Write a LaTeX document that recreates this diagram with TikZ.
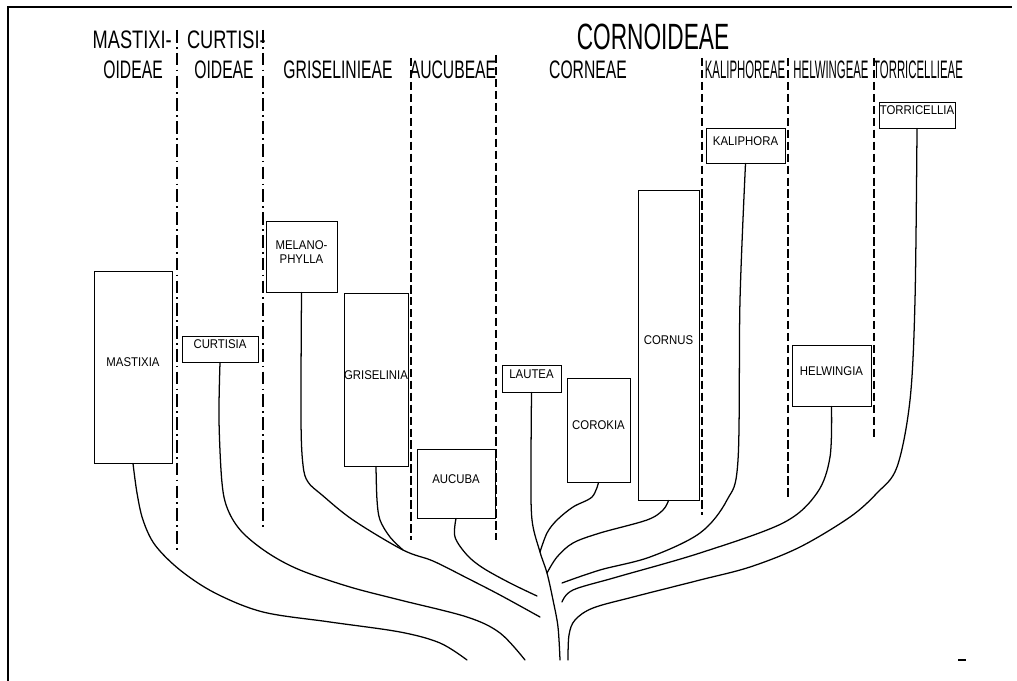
\documentclass[tikz,border=0pt]{standalone}
\usepackage{fontspec}
\newfontfamily\headfont[FakeStretch=0.62]{Liberation Sans}
\newfontfamily\widefont[FakeStretch=0.72]{Liberation Sans}
\newfontfamily\tightfont[FakeStretch=0.45]{Liberation Sans}
\newfontfamily\boxfont[FakeStretch=0.9]{Liberation Sans}
\usetikzlibrary{fit}

\tikzset{
  taxon/.style={draw, line width=0.7pt, inner sep=0pt, align=center,
    font=\boxfont\fontsize{9}{10}\selectfont},
  tribe/.style={inner sep=0pt, font=\headfont\fontsize{18}{18}\selectfont},
  widetribe/.style={inner sep=0pt, font=\widefont\fontsize{18}{18}\selectfont},
  narrowtribe/.style={inner sep=0pt, font=\tightfont\fontsize{18}{18}\selectfont},
  branch/.style={line width=0.9pt, line cap=round},
  subfamline/.style={line width=1pt, dash pattern=on 9pt off 3pt on 1.2pt off 3pt},
  tribeline/.style={line width=1pt, dash pattern=on 6pt off 2.5pt},
}

\begin{document}
\begin{tikzpicture}[x=0.025cm, y=-0.025cm]
  \useasboundingbox (0,0) rectangle (1017,681);
  % frame
  \draw[line width=1.6pt] (8,681) -- (8,7) -- (1012,7);

  % dividers
  \foreach \x/\t/\b in {177/30/550, 263/30/530}
    \draw[subfamline] (\x,\t) -- (\x,\b);
  \foreach \x/\t/\b in {411/58/540, 496/55/540, 702/58/515, 788/58/497, 874/58/440}
    \draw[tribeline] (\x,\t) -- (\x,\b);

  % headings
  \node[widetribe, anchor=east] (mastixi) at (172,40) {MASTIXI-};
  \node[tribe, anchor=east]     (mastoid) at (163,70) {OIDEAE};
  \node[widetribe, anchor=east] (curtisi) at (266,40) {CURTISI-};
  \node[tribe]                  (curtoid) at (224,70) {OIDEAE};
  \node[tribe]                  (grisel)  at (338,70) {GRISELINIEAE};
  \node[tribe]                  (aucub)   at (453,70) {AUCUBEAE};
  \node[tribe, font=\headfont\fontsize{26}{26}\selectfont] (cornoid) at (653,37) {CORNOIDEAE};
  \node[tribe]                  (corn)    at (588,70) {CORNEAE};
  \node[narrowtribe]            (kaliph)  at (745,70) {KALIPHOREAE};
  \node[narrowtribe]            (helw)    at (831,70) {HELWINGEAE};
  \node[narrowtribe]            (torric)  at (918,70) {TORRICELLIEAE};

  % genera
  \node[taxon, fit={(94,271) (172,463)}]  (mastixia)    {MASTIXIA};
  \node[taxon, fit={(182,336) (258,362)}] (curtisia)    {CURTISIA};
  \node[taxon, fit={(266,221) (337,292)}] (melano)      {MELANO-\\PHYLLA};
  \node[taxon, fit={(344,293) (408,466)}] (griselinia)  {GRISELINIA};
  \node[taxon, fit={(417,449) (495,518)}] (aucuba)      {AUCUBA};
  \node[taxon, fit={(502,365) (561,392)}] (lautea)      {LAUTEA};
  \node[taxon, fit={(567,378) (630,482)}] (corokia)     {COROKIA};
  \node[taxon, fit={(638,190) (699,500)}] (cornus)      {CORNUS};
  \node[taxon, fit={(706,128) (785,163)}] (kaliphora)   {KALIPHORA};
  \node[taxon, fit={(792,345) (871,406)}] (helwingia)   {HELWINGIA};
  \node[taxon, fit={(879,102) (955,128)}] (torricellia) {TORRICELLIA};

  % joins and loose ends
  \coordinate (jG)  at (403,550);
  \coordinate (jCo) at (540,552);
  \coordinate (jCn) at (547,573);
  \coordinate (eM)  at (467,660);
  \coordinate (eCu) at (525,660);
  \coordinate (eG)  at (540,617);
  \coordinate (eA)  at (537,596);
  \coordinate (eT)  at (560,660);
  \coordinate (eK)  at (562,583);
  \coordinate (eH)  at (562,602);
  \coordinate (eTo) at (568,660);

  % branches
  \begin{scope}[branch]
    \draw plot[smooth, tension=0.55] coordinates {(mastixia.south) (137,493) (143,520) (155,545) (180,570) (215,593) (263,612) (330,622) (400,632) (440,643) (eM)};
    \draw plot[smooth, tension=0.55] coordinates {(curtisia.south) (219,420) (222,483) (228,510) (242,532) (268,553) (300,570) (350,587) (400,600) (467,617) (500,633) (eCu)};
    \draw plot[smooth, tension=0.55] coordinates {(melano.south) (301,420) (303,465) (308,482) (322,495) (353,520) (jG) (433,561) (467,578) (500,595) (eG)};
    \draw plot[smooth, tension=0.55] coordinates {(griselinia.south) (377,500) (380,520) (390,537) (jG)};
    \draw plot[smooth, tension=0.55] coordinates {(aucuba.south) (455,537) (467,555) (483,568) (510,583) (eA)};
    \draw plot[smooth, tension=0.55] coordinates {(lautea.south) (531,470) (532,520) (jCo) (jCn) (553,600) (558,627) (eT)};
    \draw plot[smooth, tension=0.55] coordinates {(corokia.south) (592,497) (573,507) (557,520) (547,533) (jCo)};
    \draw plot[smooth, tension=0.55] coordinates {(cornus.south) (663,510) (647,520) (600,533) (573,543) (557,557) (jCn)};
    \draw plot[smooth, tension=0.55] coordinates {(kaliphora.south) (740,300) (738,460) (727,500) (700,533) (650,557) (600,570) (eK)};
    \draw plot[smooth, tension=0.55] coordinates {(helwingia.south) (830,457) (817,493) (783,523) (700,553) (617,577) (573,590) (eH)};
    \draw plot[smooth, tension=0.55] coordinates {(torricellia.south) (915,300) (910,400) (897,467) (877,493) (850,517) (800,547) (750,567) (700,580) (633,597) (593,608) (575,620) (569,635) (eTo)};
  \end{scope}

  \draw[line width=0.8pt] (958,660) -- (966,660);
\end{tikzpicture}
\end{document}
